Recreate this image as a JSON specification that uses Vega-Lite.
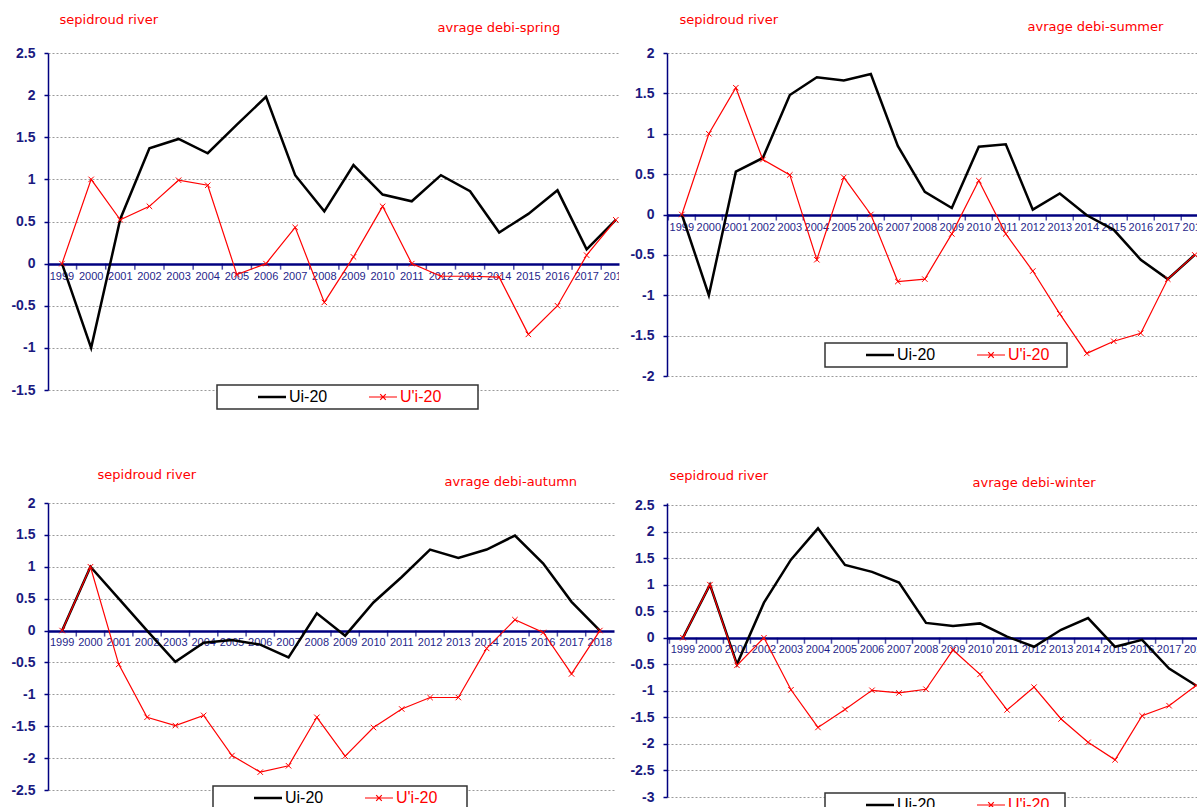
{
  "$schema": "https://vega.github.io/schema/vega-lite/v6.json",
  "background": "white",
  "padding": {"left": 10, "top": 13, "right": 0, "bottom": 0},
  "columns": 2,
  "bounds": "flush",
  "align": "each",
  "spacing": {"row": 113, "column": 48},
  "resolve": {"scale": {"color": "independent"}, "legend": {"color": "independent"}},
  "config": {
    "view": {"stroke": null},
    "axis": {
      "titleFont": "DejaVu Sans",
      "titleFontSize": 13,
      "titleFontWeight": "normal",
      "titleColor": "#ff0000"
    },
    "axisX": {"titleAlign": "left", "titleBaseline": "alphabetic"},
    "axisY": {
      "titleAngle": 0,
      "titleAlign": "left",
      "titleBaseline": "alphabetic",
      "domainColor": "#000080",
      "domainWidth": 1.5,
      "tickColor": "#000080",
      "tickSize": 4,
      "tickWidth": 1.5,
      "labelFont": "Liberation Sans",
      "labelFontSize": 14,
      "labelFontWeight": "bold",
      "labelColor": "#1a1a80",
      "labelPadding": 9,
      "labelExpr": "toString(datum.value)"
    },
    "legend": {
      "orient": "none",
      "direction": "horizontal",
      "padding": 4,
      "strokeColor": "#333333",
      "fillColor": "#ffffff",
      "symbolSize": 784,
      "labelOffset": 52,
      "columnPadding": 4,
      "labelFont": "Liberation Sans",
      "labelFontSize": 16
    }
  },
  "datasets": {
    "spring": [
      {"year": 1999, "series": "Ui-20", "value": 0},
      {"year": 2000, "series": "Ui-20", "value": -1.0},
      {"year": 2001, "series": "Ui-20", "value": 0.53},
      {"year": 2002, "series": "Ui-20", "value": 1.37},
      {"year": 2003, "series": "Ui-20", "value": 1.48},
      {"year": 2004, "series": "Ui-20", "value": 1.31},
      {"year": 2005, "series": "Ui-20", "value": 1.65},
      {"year": 2006, "series": "Ui-20", "value": 1.98},
      {"year": 2007, "series": "Ui-20", "value": 1.05},
      {"year": 2008, "series": "Ui-20", "value": 0.62},
      {"year": 2009, "series": "Ui-20", "value": 1.17},
      {"year": 2010, "series": "Ui-20", "value": 0.82},
      {"year": 2011, "series": "Ui-20", "value": 0.74},
      {"year": 2012, "series": "Ui-20", "value": 1.05},
      {"year": 2013, "series": "Ui-20", "value": 0.86},
      {"year": 2014, "series": "Ui-20", "value": 0.37},
      {"year": 2015, "series": "Ui-20", "value": 0.59},
      {"year": 2016, "series": "Ui-20", "value": 0.87},
      {"year": 2017, "series": "Ui-20", "value": 0.17},
      {"year": 2018, "series": "Ui-20", "value": 0.52},
      {"year": 1999, "series": "U'i-20", "value": 0},
      {"year": 2000, "series": "U'i-20", "value": 1.0},
      {"year": 2001, "series": "U'i-20", "value": 0.52},
      {"year": 2002, "series": "U'i-20", "value": 0.68},
      {"year": 2003, "series": "U'i-20", "value": 0.99},
      {"year": 2004, "series": "U'i-20", "value": 0.93},
      {"year": 2005, "series": "U'i-20", "value": -0.13},
      {"year": 2006, "series": "U'i-20", "value": 0.0},
      {"year": 2007, "series": "U'i-20", "value": 0.43},
      {"year": 2008, "series": "U'i-20", "value": -0.46},
      {"year": 2009, "series": "U'i-20", "value": 0.08},
      {"year": 2010, "series": "U'i-20", "value": 0.68},
      {"year": 2011, "series": "U'i-20", "value": 0.0},
      {"year": 2012, "series": "U'i-20", "value": -0.15},
      {"year": 2013, "series": "U'i-20", "value": -0.15},
      {"year": 2014, "series": "U'i-20", "value": -0.16},
      {"year": 2015, "series": "U'i-20", "value": -0.84},
      {"year": 2016, "series": "U'i-20", "value": -0.5},
      {"year": 2017, "series": "U'i-20", "value": 0.1},
      {"year": 2018, "series": "U'i-20", "value": 0.52}
    ],
    "summer": [
      {"year": 1999, "series": "Ui-20", "value": 0},
      {"year": 2000, "series": "Ui-20", "value": -1.0},
      {"year": 2001, "series": "Ui-20", "value": 0.53},
      {"year": 2002, "series": "Ui-20", "value": 0.7},
      {"year": 2003, "series": "Ui-20", "value": 1.48},
      {"year": 2004, "series": "Ui-20", "value": 1.7},
      {"year": 2005, "series": "Ui-20", "value": 1.66},
      {"year": 2006, "series": "Ui-20", "value": 1.74},
      {"year": 2007, "series": "Ui-20", "value": 0.85},
      {"year": 2008, "series": "Ui-20", "value": 0.28},
      {"year": 2009, "series": "Ui-20", "value": 0.08},
      {"year": 2010, "series": "Ui-20", "value": 0.84},
      {"year": 2011, "series": "Ui-20", "value": 0.87},
      {"year": 2012, "series": "Ui-20", "value": 0.06},
      {"year": 2013, "series": "Ui-20", "value": 0.26},
      {"year": 2014, "series": "Ui-20", "value": -0.01},
      {"year": 2015, "series": "Ui-20", "value": -0.19},
      {"year": 2016, "series": "Ui-20", "value": -0.56},
      {"year": 2017, "series": "Ui-20", "value": -0.8},
      {"year": 2018, "series": "Ui-20", "value": -0.5},
      {"year": 1999, "series": "U'i-20", "value": 0},
      {"year": 2000, "series": "U'i-20", "value": 1.0},
      {"year": 2001, "series": "U'i-20", "value": 1.57},
      {"year": 2002, "series": "U'i-20", "value": 0.68},
      {"year": 2003, "series": "U'i-20", "value": 0.49},
      {"year": 2004, "series": "U'i-20", "value": -0.56},
      {"year": 2005, "series": "U'i-20", "value": 0.46},
      {"year": 2006, "series": "U'i-20", "value": 0.0},
      {"year": 2007, "series": "U'i-20", "value": -0.83},
      {"year": 2008, "series": "U'i-20", "value": -0.8},
      {"year": 2009, "series": "U'i-20", "value": -0.24},
      {"year": 2010, "series": "U'i-20", "value": 0.42},
      {"year": 2011, "series": "U'i-20", "value": -0.24},
      {"year": 2012, "series": "U'i-20", "value": -0.7},
      {"year": 2013, "series": "U'i-20", "value": -1.23},
      {"year": 2014, "series": "U'i-20", "value": -1.72},
      {"year": 2015, "series": "U'i-20", "value": -1.57},
      {"year": 2016, "series": "U'i-20", "value": -1.47},
      {"year": 2017, "series": "U'i-20", "value": -0.8},
      {"year": 2018, "series": "U'i-20", "value": -0.5}
    ],
    "autumn": [
      {"year": 1999, "series": "Ui-20", "value": 0},
      {"year": 2000, "series": "Ui-20", "value": 1.0},
      {"year": 2001, "series": "Ui-20", "value": 0.5},
      {"year": 2002, "series": "Ui-20", "value": 0.0},
      {"year": 2003, "series": "Ui-20", "value": -0.49},
      {"year": 2004, "series": "Ui-20", "value": -0.19},
      {"year": 2005, "series": "Ui-20", "value": -0.15},
      {"year": 2006, "series": "Ui-20", "value": -0.22},
      {"year": 2007, "series": "Ui-20", "value": -0.42},
      {"year": 2008, "series": "Ui-20", "value": 0.27},
      {"year": 2009, "series": "Ui-20", "value": -0.08},
      {"year": 2010, "series": "Ui-20", "value": 0.44},
      {"year": 2011, "series": "Ui-20", "value": 0.84},
      {"year": 2012, "series": "Ui-20", "value": 1.27},
      {"year": 2013, "series": "Ui-20", "value": 1.14},
      {"year": 2014, "series": "Ui-20", "value": 1.27},
      {"year": 2015, "series": "Ui-20", "value": 1.49},
      {"year": 2016, "series": "Ui-20", "value": 1.05},
      {"year": 2017, "series": "Ui-20", "value": 0.45},
      {"year": 2018, "series": "Ui-20", "value": 0.0},
      {"year": 1999, "series": "U'i-20", "value": 0},
      {"year": 2000, "series": "U'i-20", "value": 1.0},
      {"year": 2001, "series": "U'i-20", "value": -0.53},
      {"year": 2002, "series": "U'i-20", "value": -1.36},
      {"year": 2003, "series": "U'i-20", "value": -1.49},
      {"year": 2004, "series": "U'i-20", "value": -1.33},
      {"year": 2005, "series": "U'i-20", "value": -1.96},
      {"year": 2006, "series": "U'i-20", "value": -2.22},
      {"year": 2007, "series": "U'i-20", "value": -2.12},
      {"year": 2008, "series": "U'i-20", "value": -1.36},
      {"year": 2009, "series": "U'i-20", "value": -1.97},
      {"year": 2010, "series": "U'i-20", "value": -1.52},
      {"year": 2011, "series": "U'i-20", "value": -1.23},
      {"year": 2012, "series": "U'i-20", "value": -1.05},
      {"year": 2013, "series": "U'i-20", "value": -1.05},
      {"year": 2014, "series": "U'i-20", "value": -0.28},
      {"year": 2015, "series": "U'i-20", "value": 0.17},
      {"year": 2016, "series": "U'i-20", "value": -0.03},
      {"year": 2017, "series": "U'i-20", "value": -0.68},
      {"year": 2018, "series": "U'i-20", "value": 0.0}
    ],
    "winter": [
      {"year": 1999, "series": "Ui-20", "value": 0},
      {"year": 2000, "series": "Ui-20", "value": 1.0},
      {"year": 2001, "series": "Ui-20", "value": -0.5},
      {"year": 2002, "series": "Ui-20", "value": 0.66},
      {"year": 2003, "series": "Ui-20", "value": 1.47},
      {"year": 2004, "series": "Ui-20", "value": 2.06},
      {"year": 2005, "series": "Ui-20", "value": 1.37},
      {"year": 2006, "series": "Ui-20", "value": 1.24},
      {"year": 2007, "series": "Ui-20", "value": 1.04},
      {"year": 2008, "series": "Ui-20", "value": 0.28},
      {"year": 2009, "series": "Ui-20", "value": 0.22},
      {"year": 2010, "series": "Ui-20", "value": 0.27},
      {"year": 2011, "series": "Ui-20", "value": 0.02},
      {"year": 2012, "series": "Ui-20", "value": -0.17},
      {"year": 2013, "series": "Ui-20", "value": 0.15},
      {"year": 2014, "series": "Ui-20", "value": 0.37},
      {"year": 2015, "series": "Ui-20", "value": -0.17},
      {"year": 2016, "series": "Ui-20", "value": -0.04},
      {"year": 2017, "series": "Ui-20", "value": -0.58},
      {"year": 2018, "series": "Ui-20", "value": -0.9},
      {"year": 1999, "series": "U'i-20", "value": 0},
      {"year": 2000, "series": "U'i-20", "value": 1.0},
      {"year": 2001, "series": "U'i-20", "value": -0.52},
      {"year": 2002, "series": "U'i-20", "value": 0.0},
      {"year": 2003, "series": "U'i-20", "value": -0.98},
      {"year": 2004, "series": "U'i-20", "value": -1.69},
      {"year": 2005, "series": "U'i-20", "value": -1.35},
      {"year": 2006, "series": "U'i-20", "value": -0.99},
      {"year": 2007, "series": "U'i-20", "value": -1.04},
      {"year": 2008, "series": "U'i-20", "value": -0.97},
      {"year": 2009, "series": "U'i-20", "value": -0.23},
      {"year": 2010, "series": "U'i-20", "value": -0.69},
      {"year": 2011, "series": "U'i-20", "value": -1.36},
      {"year": 2012, "series": "U'i-20", "value": -0.93},
      {"year": 2013, "series": "U'i-20", "value": -1.53},
      {"year": 2014, "series": "U'i-20", "value": -1.97},
      {"year": 2015, "series": "U'i-20", "value": -2.3},
      {"year": 2016, "series": "U'i-20", "value": -1.47},
      {"year": 2017, "series": "U'i-20", "value": -1.28},
      {"year": 2018, "series": "U'i-20", "value": -0.9}
    ]
  },
  "concat": [
    {
      "width": 571,
      "height": 337,
      "data": {"name": "spring"},
      "encoding": {
        "x": {
          "field": "year", "type": "quantitative",
          "scale": {"domain": [1998.52, 2018.11], "nice": false, "zero": false},
          "axis": {"orient": "top", "title": "avrage debi-spring", "labels": false, "ticks": false, "domain": false, "grid": false, "titleX": 389, "titleY": -22}
        },
        "y": {
          "field": "value", "type": "quantitative",
          "scale": {"domain": [-1.5, 2.5], "nice": false, "zero": false},
          "axis": {
            "title": "sepidroud river", "titleX": 11, "titleY": -30,
            "values": [-1.5, -1, -0.5, 0, 0.5, 1, 1.5, 2, 2.5],
            "gridColor": {"condition": {"test": "datum.value === 0", "value": "#000080"}, "value": "#9a9a9a"},
            "gridWidth": {"condition": {"test": "datum.value === 0", "value": 2.6}, "value": 1},
            "gridDash": {"condition": {"test": "datum.value === 0", "value": []}, "value": [2, 2]}
          }
        }
      },
      "layer": [
        {
          "transform": [{"filter": "datum.series === 'Ui-20'"}],
          "mark": {"type": "text", "clip": true, "dy": 13, "baseline": "middle", "font": "Liberation Sans", "fontSize": 11, "color": "#1f1f8a"},
          "encoding": {"y": {"datum": 0, "type": "quantitative"}, "text": {"field": "year", "type": "quantitative", "format": "d"}}
        },
        {
          "transform": [{"filter": "datum.series === 'Ui-20'"}],
          "mark": {"type": "tick", "orient": "vertical", "clip": true, "xOffset": -14.57, "yOffset": 3, "size": 6, "thickness": 1.5, "color": "#000080"},
          "encoding": {"y": {"datum": 0, "type": "quantitative"}}
        },
        {
          "mark": {"type": "line", "clip": true},
          "encoding": {
            "color": {
              "field": "series", "type": "nominal",
              "scale": {"domain": ["Ui-20", "U'i-20"], "range": ["#000000", "#ff0000"]},
              "legend": {
                "title": null, "legendX": 169, "legendY": 332,
                "encode": {
                  "symbols": {"update": {
                    "shape": {"signal": "datum.value === 'Ui-20' ? 'M2.071,0H4.071' : 'M2.071,0H4.071M2.871,-0.2L3.271,0.2M2.871,0.2L3.271,-0.2M9.4,0'"},
                    "strokeWidth": {"signal": "datum.value === 'Ui-20' ? 2.5 : 1.2"}
                  }},
                  "labels": {"update": {"fill": {"signal": "datum.value === 'Ui-20' ? '#000000' : '#ff0000'"}}},
                  "legend": {"update": {"strokeWidth": {"value": 1.5}}}
                }
              }
            },
            "strokeWidth": {"condition": {"test": "datum.series === 'Ui-20'", "value": 2.5}, "value": 1.2}
          }
        },
        {
          "transform": [{"filter": "datum.series !== 'Ui-20'"}],
          "mark": {"type": "point", "clip": true, "shape": "M-1,-1L1,1M-1,1L1,-1", "size": 30, "filled": false, "stroke": "#ff0000", "strokeWidth": 1, "opacity": 1}
        }
      ]
    },
    {
      "width": 531,
      "height": 323,
      "data": {"name": "summer"},
      "encoding": {
        "x": {
          "field": "year", "type": "quantitative",
          "scale": {"domain": [1998.45, 2018.12], "nice": false, "zero": false},
          "axis": {"orient": "top", "title": "avrage debi-summer", "labels": false, "ticks": false, "domain": false, "grid": false, "titleX": 360, "titleY": -23}
        },
        "y": {
          "field": "value", "type": "quantitative",
          "scale": {"domain": [-2, 2], "nice": false, "zero": false},
          "axis": {
            "title": "sepidroud river", "titleX": 12, "titleY": -30,
            "values": [-2, -1.5, -1, -0.5, 0, 0.5, 1, 1.5, 2],
            "gridColor": {"condition": {"test": "datum.value === 0", "value": "#000080"}, "value": "#9a9a9a"},
            "gridWidth": {"condition": {"test": "datum.value === 0", "value": 2.6}, "value": 1},
            "gridDash": {"condition": {"test": "datum.value === 0", "value": []}, "value": [2, 2]}
          }
        }
      },
      "layer": [
        {
          "transform": [{"filter": "datum.series === 'Ui-20'"}],
          "mark": {"type": "text", "clip": true, "dy": 13, "baseline": "middle", "font": "Liberation Sans", "fontSize": 11, "color": "#1f1f8a"},
          "encoding": {"y": {"datum": 0, "type": "quantitative"}, "text": {"field": "year", "type": "quantitative", "format": "d"}}
        },
        {
          "transform": [{"filter": "datum.series === 'Ui-20'"}],
          "mark": {"type": "tick", "orient": "vertical", "clip": true, "xOffset": -13.5, "yOffset": 3, "size": 6, "thickness": 1.5, "color": "#000080"},
          "encoding": {"y": {"datum": 0, "type": "quantitative"}}
        },
        {
          "mark": {"type": "line", "clip": true},
          "encoding": {
            "color": {
              "field": "series", "type": "nominal",
              "scale": {"domain": ["Ui-20", "U'i-20"], "range": ["#000000", "#ff0000"]},
              "legend": {
                "title": null, "legendX": 158, "legendY": 290,
                "encode": {
                  "symbols": {"update": {
                    "shape": {"signal": "datum.value === 'Ui-20' ? 'M2.071,0H4.071' : 'M2.071,0H4.071M2.871,-0.2L3.271,0.2M2.871,0.2L3.271,-0.2M8.04,0'"},
                    "strokeWidth": {"signal": "datum.value === 'Ui-20' ? 2.5 : 1.2"}
                  }},
                  "labels": {"update": {"fill": {"signal": "datum.value === 'Ui-20' ? '#000000' : '#ff0000'"}}},
                  "legend": {"update": {"strokeWidth": {"value": 1.5}}}
                }
              }
            },
            "strokeWidth": {"condition": {"test": "datum.series === 'Ui-20'", "value": 2.5}, "value": 1.2}
          }
        },
        {
          "transform": [{"filter": "datum.series !== 'Ui-20'"}],
          "mark": {"type": "point", "clip": true, "shape": "M-1,-1L1,1M-1,1L1,-1", "size": 30, "filled": false, "stroke": "#ff0000", "strokeWidth": 1, "opacity": 1}
        }
      ]
    },
    {
      "width": 566,
      "height": 287,
      "data": {"name": "autumn"},
      "encoding": {
        "x": {
          "field": "year", "type": "quantitative",
          "scale": {"domain": [1998.5, 2018.5], "nice": false, "zero": false},
          "axis": {"orient": "top", "title": "avrage debi-autumn", "labels": false, "ticks": false, "domain": false, "grid": false, "titleX": 396, "titleY": -18}
        },
        "y": {
          "field": "value", "type": "quantitative",
          "scale": {"domain": [-2.5, 2], "nice": false, "zero": false},
          "axis": {
            "title": "sepidroud river", "titleX": 49, "titleY": -25,
            "values": [-2.5, -2, -1.5, -1, -0.5, 0, 0.5, 1, 1.5, 2],
            "gridColor": {"condition": {"test": "datum.value === 0", "value": "#000080"}, "value": "#9a9a9a"},
            "gridWidth": {"condition": {"test": "datum.value === 0", "value": 2.6}, "value": 1},
            "gridDash": {"condition": {"test": "datum.value === 0", "value": []}, "value": [2, 2]}
          }
        }
      },
      "layer": [
        {
          "transform": [{"filter": "datum.series === 'Ui-20'"}],
          "mark": {"type": "text", "clip": true, "dy": 12, "baseline": "middle", "font": "Liberation Sans", "fontSize": 11, "color": "#1f1f8a"},
          "encoding": {"y": {"datum": 0, "type": "quantitative"}, "text": {"field": "year", "type": "quantitative", "format": "d"}}
        },
        {
          "transform": [{"filter": "datum.series === 'Ui-20'"}],
          "mark": {"type": "tick", "orient": "vertical", "clip": true, "xOffset": -14.15, "yOffset": 3, "size": 6, "thickness": 1.5, "color": "#000080"},
          "encoding": {"y": {"datum": 0, "type": "quantitative"}}
        },
        {
          "mark": {"type": "line", "clip": true},
          "encoding": {
            "color": {
              "field": "series", "type": "nominal",
              "scale": {"domain": ["Ui-20", "U'i-20"], "range": ["#000000", "#ff0000"]},
              "legend": {
                "title": null, "legendX": 165, "legendY": 283,
                "encode": {
                  "symbols": {"update": {
                    "shape": {"signal": "datum.value === 'Ui-20' ? 'M2.071,0H4.071' : 'M2.071,0H4.071M2.871,-0.2L3.271,0.2M2.871,0.2L3.271,-0.2M8.9,0'"},
                    "strokeWidth": {"signal": "datum.value === 'Ui-20' ? 2.5 : 1.2"}
                  }},
                  "labels": {"update": {"fill": {"signal": "datum.value === 'Ui-20' ? '#000000' : '#ff0000'"}}},
                  "legend": {"update": {"strokeWidth": {"value": 1.5}}}
                }
              }
            },
            "strokeWidth": {"condition": {"test": "datum.series === 'Ui-20'", "value": 2.5}, "value": 1.2}
          }
        },
        {
          "transform": [{"filter": "datum.series !== 'Ui-20'"}],
          "mark": {"type": "point", "clip": true, "shape": "M-1,-1L1,1M-1,1L1,-1", "size": 30, "filled": false, "stroke": "#ff0000", "strokeWidth": 1, "opacity": 1}
        }
      ]
    },
    {
      "width": 531,
      "height": 294,
      "data": {"name": "winter"},
      "encoding": {
        "x": {
          "field": "year", "type": "quantitative",
          "scale": {"domain": [1998.41, 2018.07], "nice": false, "zero": false},
          "axis": {"orient": "top", "title": "avrage debi-winter", "labels": false, "ticks": false, "domain": false, "grid": false, "titleX": 305, "titleY": -17}
        },
        "y": {
          "field": "value", "type": "quantitative",
          "scale": {"domain": [-3, 2.538], "nice": false, "zero": false},
          "axis": {
            "title": "sepidroud river", "titleX": 2, "titleY": -24,
            "values": [-3, -2.5, -2, -1.5, -1, -0.5, 0, 0.5, 1, 1.5, 2, 2.5],
            "gridColor": {"condition": {"test": "datum.value === 0", "value": "#000080"}, "value": "#9a9a9a"},
            "gridWidth": {"condition": {"test": "datum.value === 0", "value": 2.6}, "value": 1},
            "gridDash": {"condition": {"test": "datum.value === 0", "value": []}, "value": [2, 2]}
          }
        }
      },
      "layer": [
        {
          "transform": [{"filter": "datum.series === 'Ui-20'"}],
          "mark": {"type": "text", "clip": true, "dy": 12, "baseline": "middle", "font": "Liberation Sans", "fontSize": 11, "color": "#1f1f8a"},
          "encoding": {"y": {"datum": 0, "type": "quantitative"}, "text": {"field": "year", "type": "quantitative", "format": "d"}}
        },
        {
          "transform": [{"filter": "datum.series === 'Ui-20'"}],
          "mark": {"type": "tick", "orient": "vertical", "clip": true, "xOffset": -13.5, "yOffset": 3, "size": 6, "thickness": 1.5, "color": "#000080"},
          "encoding": {"y": {"datum": 0, "type": "quantitative"}}
        },
        {
          "mark": {"type": "line", "clip": true},
          "encoding": {
            "color": {
              "field": "series", "type": "nominal",
              "scale": {"domain": ["Ui-20", "U'i-20"], "range": ["#000000", "#ff0000"]},
              "legend": {
                "title": null, "legendX": 158, "legendY": 290,
                "encode": {
                  "symbols": {"update": {
                    "shape": {"signal": "datum.value === 'Ui-20' ? 'M2.071,0H4.071' : 'M2.071,0H4.071M2.871,-0.2L3.271,0.2M2.871,0.2L3.271,-0.2M7.83,0'"},
                    "strokeWidth": {"signal": "datum.value === 'Ui-20' ? 2.5 : 1.2"}
                  }},
                  "labels": {"update": {"fill": {"signal": "datum.value === 'Ui-20' ? '#000000' : '#ff0000'"}}},
                  "legend": {"update": {"strokeWidth": {"value": 1.5}}}
                }
              }
            },
            "strokeWidth": {"condition": {"test": "datum.series === 'Ui-20'", "value": 2.5}, "value": 1.2}
          }
        },
        {
          "transform": [{"filter": "datum.series !== 'Ui-20'"}],
          "mark": {"type": "point", "clip": true, "shape": "M-1,-1L1,1M-1,1L1,-1", "size": 30, "filled": false, "stroke": "#ff0000", "strokeWidth": 1, "opacity": 1}
        }
      ]
    }
  ]
}
